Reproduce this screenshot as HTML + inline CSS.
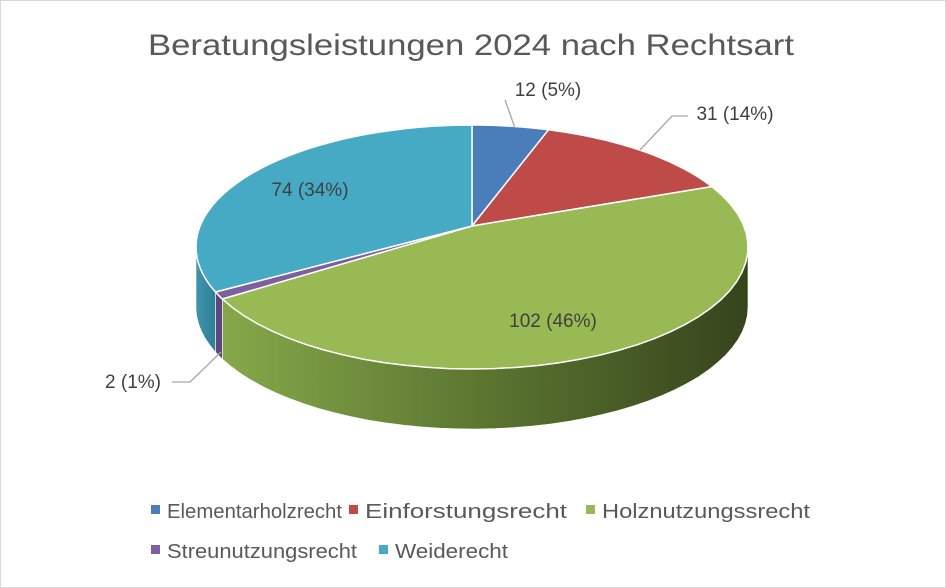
<!DOCTYPE html>
<html><head><meta charset="utf-8"><style>
html,body{margin:0;padding:0;background:#fff;}
svg{display:block;font-family:"Liberation Sans",sans-serif;}
</style></head><body>
<svg id="chart" width="946" height="588" viewBox="0 0 946 588">
<defs>
<linearGradient id="gHolz" x1="0" x2="1" y1="0" y2="0">
<stop offset="0" stop-color="#86a84a"/><stop offset="0.5" stop-color="#5b7530"/><stop offset="1" stop-color="#36441c"/>
</linearGradient>
<linearGradient id="gWeide" x1="0" x2="1"><stop offset="0" stop-color="#3f95ac"/><stop offset="1" stop-color="#2f7f96"/></linearGradient>
</defs>
<rect x="0.5" y="0.5" width="945" height="587" fill="#fff" stroke="#d9d9d9"/>
<text x="471" y="55" text-anchor="middle" font-size="30" fill="#595959" textLength="646" lengthAdjust="spacingAndGlyphs">Beratungsleistungen 2024 nach Rechtsart</text>
<g id="sides"></g><g id="tops"></g><g id="labels"></g><g id="legend"></g>
</svg>
<script>
const categories=["Elementarholzrecht","Einforstungsrecht","Holznutzungssrecht","Streunutzungsrecht","Weiderecht"];
const values=[12,31,102,2,74];
const percentLabels=["5%","14%","46%","1%","34%"];
const colors=["#4a7ebb","#be4b48","#98b954","#7d5fa0","#46aac5"];
const sideColors=["#3b659a","#98393a","url(#gHolz)","#5e4680","url(#gWeide)"];
const NS="http://www.w3.org/2000/svg";
const cx=472,cy=247,rx=276,ry=122,ax=472,ay=226,depth=60;
const total=values.reduce((a,b)=>a+b,0);
function warp(t){return t-0.18*Math.sin(t);}
function pt(t,dy){return [cx+rx*Math.sin(t),cy-ry*Math.cos(t)+(dy||0)];}
function arc(t0,t1,dy){let s="";const n=40;for(let i=0;i<=n;i++){const t=t0+(t1-t0)*i/n;const p=pt(t,dy);s+=(i?"L":"")+p[0].toFixed(1)+","+p[1].toFixed(1);}return s;}
const sides=document.getElementById("sides"),tops=document.getElementById("tops");
let cum=0;const angles=[];
values.forEach((v,i)=>{const t0=warp(cum/total*2*Math.PI);cum+=v;const t1=warp(cum/total*2*Math.PI);angles.push([t0,t1]);});
angles.forEach(([t0,t1],i)=>{
  const a=Math.max(t0,Math.PI/2),b=Math.min(t1,3*Math.PI/2);
  if(b>a){const p=document.createElementNS(NS,"path");
    const back="L"+arc(b,a,depth);
    p.setAttribute("d","M"+arc(a,b,0)+back+"Z");
    p.setAttribute("fill",sideColors[i]);p.setAttribute("stroke","#fff");p.setAttribute("stroke-width","0.6");
    
    
    sides.appendChild(p);}
});
angles.forEach(([t0,t1],i)=>{
  const p=document.createElementNS(NS,"path");
  p.setAttribute("d","M"+ax+","+ay+"L"+arc(t0,t1,0)+"Z");
  p.setAttribute("fill",colors[i]);p.setAttribute("stroke","#fff");p.setAttribute("stroke-width","1.5");
  
  
  tops.appendChild(p);
});
const labels=document.getElementById("labels");
const labelPos=[[548,96,"middle"],[735,120,"middle"],[553,327,"middle"],[133,388,"middle"],[310,196,"middle"]];
const leaders=["M515,128 L505,100","M640,150 L672,116 L688,116","","M221,352 L190,382 L172,382",""];
values.forEach((v,i)=>{
  if(leaders[i]){const l=document.createElementNS(NS,"path");l.setAttribute("d",leaders[i]);l.setAttribute("stroke","#a6a6a6");l.setAttribute("fill","none");l.setAttribute("stroke-width","1.3");
    
    
    labels.appendChild(l);}
  const t=document.createElementNS(NS,"text");
  t.setAttribute("x",labelPos[i][0]);t.setAttribute("y",labelPos[i][1]);t.setAttribute("text-anchor",labelPos[i][2]);
  t.setAttribute("font-size","19");t.setAttribute("fill","#404040");
  t.textContent=v+" ("+percentLabels[i]+")";
  
  
  labels.appendChild(t);
});
const legend=document.getElementById("legend");
const legPos=[[151,511,175],[349,511,202],[586,511,208],[151,551,190],[379,551,113]];
categories.forEach((c,i)=>{
  const g=document.createElementNS(NS,"g");
  
  
  const r=document.createElementNS(NS,"rect");
  r.setAttribute("x",legPos[i][0]);r.setAttribute("y",legPos[i][1]-6);r.setAttribute("width","9");r.setAttribute("height","9");r.setAttribute("fill",colors[i]);
  
  
  const t=document.createElementNS(NS,"text");
  t.setAttribute("x",legPos[i][0]+16);t.setAttribute("y",legPos[i][1]+7);t.setAttribute("font-size","20");t.setAttribute("fill","#595959");
  t.setAttribute("textLength",legPos[i][2]);
  t.setAttribute("lengthAdjust","spacingAndGlyphs");
  t.textContent=c;
  
  
  g.appendChild(r);g.appendChild(t);legend.appendChild(g);
});
</script>
</body></html>
